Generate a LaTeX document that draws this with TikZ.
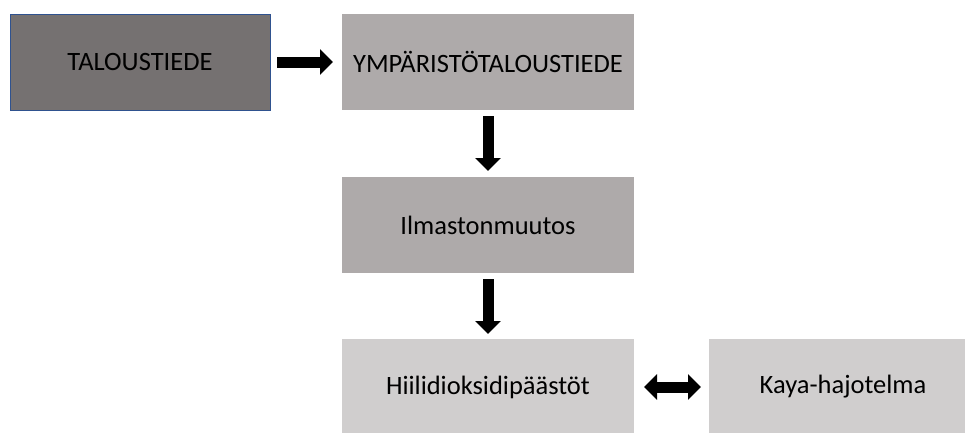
\documentclass[tikz,border=0pt]{standalone}
\usepackage{fontspec}
\setmainfont{Carlito}
\usetikzlibrary{positioning,arrows.meta}

\definecolor{greydark}{HTML}{757171}
\definecolor{greymid}{HTML}{AEAAAA}
\definecolor{greylight}{HTML}{D0CECE}
\definecolor{edgeblue}{HTML}{2F528F}

\begin{document}
\begin{tikzpicture}[x=1pt,y=-1pt,
        every node/.style={rectangle,minimum height=96pt,inner sep=2pt,outer sep=0pt,
            font=\fontsize{26.5}{30}\selectfont},
        blockarrow/.style={line width=11pt,-{Triangle[length=13pt,width=25pt]}},
        bothways/.style={line width=11pt,{Triangle[length=13pt,width=25pt]}-{Triangle[length=13pt,width=25pt]}}]

    \useasboundingbox (0,0) rectangle (965,432);
    \clip (0,0) rectangle (965,432);

    \node[fill=greydark,draw=edgeblue,line width=0.75pt,minimum width=260pt] (talous) at (140,62) {TALOUSTIEDE};
    \node[fill=greymid,minimum width=292pt,right=72pt of talous] (ymparisto) {YMPÄRISTÖTALOUSTIEDE};
    \node[fill=greymid,minimum width=292pt,below=67pt of ymparisto] (ilmasto) {Ilmastonmuutos};
    \node[fill=greylight,minimum width=292pt,below=66pt of ilmasto] (hiili) {Hiilidioksidipäästöt};
    \node[fill=greylight,minimum width=268pt,right=75pt of hiili] (kaya) {Kaya-hajotelma};

    \draw[blockarrow,shorten <=7pt,shorten >=9pt] (talous) -- (ymparisto);
    \draw[blockarrow,shorten <=6pt,shorten >=6pt] (ymparisto) -- (ilmasto);
    \draw[blockarrow,shorten <=6pt,shorten >=5pt] (ilmasto) -- (hiili);
    \draw[bothways,shorten <=10pt,shorten >=8pt] (hiili) -- (kaya);
\end{tikzpicture}
\end{document}
